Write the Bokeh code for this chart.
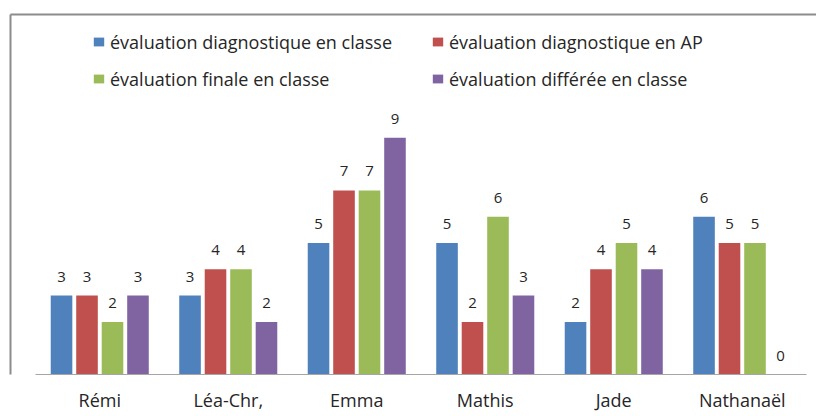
from bokeh.plotting import figure
from bokeh.models import Range1d, ColumnDataSource, Legend, LinearAxis, FixedTicker
from bokeh.core.properties import value
from bokeh.embed import file_html
from bokeh.resources import INLINE

students = ["Rémi", "Léa-Chr,", "Emma", "Mathis", "Jade", "Nathanaël"]
diag_classe = [3, 3, 5, 5, 2, 6]
diag_ap = [3, 4, 7, 2, 4, 5]
finale_classe = [2, 4, 7, 6, 5, 5]
differee_classe = [3, 2, 9, 3, 4, 0]

series_names = [
    "évaluation diagnostique en classe",
    "évaluation diagnostique en AP",
    "évaluation finale en classe",
    "évaluation différée en classe",
]
series_values = [diag_classe, diag_ap, finale_classe, differee_classe]
colors = ["#4F81BD", "#C0504D", "#9BBB59", "#8064A2"]
offsets = [-0.2975, -0.0992, 0.0992, 0.2975]

FONT = "Open Sans"
W, H = 816, 416
MB_TOP, MB_BOTTOM, MB_LEFT = 14, 42, 10
frame_h = H - MB_TOP - MB_BOTTOM
GRAY = "#8c8c8c"
TXT = "#262626"

positions = list(range(len(students)))

p = figure(
    x_range=Range1d(-0.6946, 5.5778),
    y_range=Range1d(0, 13.69),
    width=W, height=H,
    output_backend="svg", toolbar_location=None,
    min_border_left=MB_LEFT, min_border_right=0, min_border_top=MB_TOP, min_border_bottom=MB_BOTTOM,
    x_axis_location=None, y_axis_location=None,
)
p.outline_line_color = None
p.grid.visible = False
p.background_fill_color = "white"
p.border_fill_color = "white"

renderers = []
for i, (name, vals, col, off) in enumerate(zip(series_names, series_values, colors, offsets)):
    src = ColumnDataSource(dict(
        x=[pos + off for pos in positions],
        top=vals,
        label=[str(v) for v in vals],
    ))
    r = p.vbar(x="x", top="top", width=0.168, source=src, fill_color=col, line_color=None)
    renderers.append((name, [r]))
    p.text(x="x", y="top", text="label", source=src,
           text_align="center", text_baseline="alphabetic", y_offset=-19,
           text_font=value(FONT), text_font_size="15px", text_color=TXT)

# category axis
xax = LinearAxis(ticker=FixedTicker(ticks=positions),
                 major_label_overrides={pos: s for pos, s in zip(positions, students)})
xax.bounds = (-0.5, len(students) - 0.5)
xax.axis_line_color = "#a6a6a6"
xax.axis_line_width = 1
xax.major_tick_line_color = None
xax.minor_tick_line_color = None
xax.major_tick_out = 0
xax.major_tick_in = 0
xax.minor_tick_out = 0
xax.minor_tick_in = 0
xax.major_label_standoff = 13
xax.major_label_text_font = FONT
xax.major_label_text_font_size = "18px"
xax.major_label_text_color = TXT
p.add_layout(xax, "below")

# chart-area border (left and top)
for side in ("left", "above"):
    bax = LinearAxis(ticker=FixedTicker(ticks=[]))
    bax.axis_line_color = GRAY
    bax.axis_line_width = 2
    bax.major_tick_line_color = None
    bax.minor_tick_line_color = None
    bax.major_tick_out = 0
    bax.major_tick_in = 0
    bax.minor_tick_out = 0
    bax.minor_tick_in = 0
    bax.major_label_standoff = 0
    bax.major_label_text_font_size = "0px"
    p.add_layout(bax, side)

# legends, two columns
leg_y = frame_h - 14.5 - 63
for items, x in ((renderers[0::2], 82), (renderers[1::2], 421)):
    legend = Legend(items=items, orientation="vertical", location=(x, leg_y))
    legend.label_text_font = FONT
    legend.label_text_font_size = "18px"
    legend.label_text_color = TXT
    legend.label_height = 26
    legend.glyph_height = 11
    legend.glyph_width = 13
    legend.label_standoff = 5
    legend.spacing = 11
    legend.padding = 0
    legend.margin = 0
    legend.border_line_color = None
    legend.background_fill_alpha = 0
    p.add_layout(legend, "center")

open("out.html", "w").write(file_html(p, INLINE))
